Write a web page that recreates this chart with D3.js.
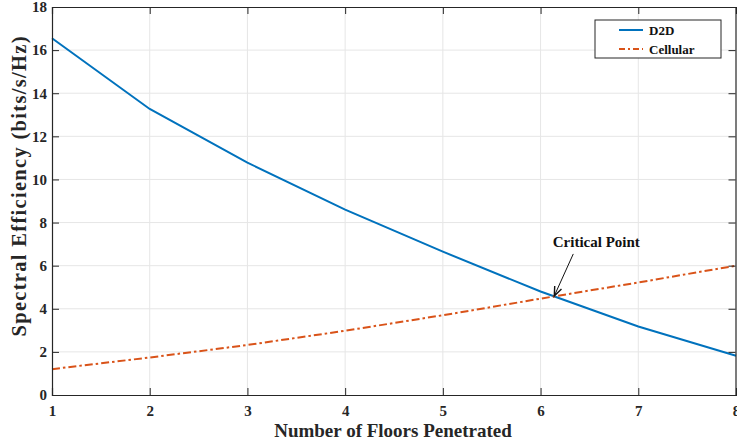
<!DOCTYPE html>
<html>
<head>
<meta charset="utf-8">
<script src="https://cdn.jsdelivr.net/npm/d3@7"></script>
<style>
  html, body { margin: 0; padding: 0; background: #fff; }
  svg { display: block; font-family: "Liberation Serif", "Times New Roman", serif; font-weight: bold; }
</style>
</head>
<body>
<svg id="chart" width="737" height="446"></svg>
<script>
// Number of floors penetrated
const floors = [1, 2, 3, 4, 5, 6, 7, 8];
// Spectral efficiency (bits/s/Hz)
const d2d = [16.55, 13.27, 10.78, 8.6, 6.65, 4.8, 3.18, 1.82];
const cellular = [1.2, 1.74, 2.32, 2.98, 3.7, 4.47, 5.22, 6.0];
const xTicks = [1, 2, 3, 4, 5, 6, 7, 8];
const yTicks = [0, 2, 4, 6, 8, 10, 12, 14, 16, 18];
const seriesNames = ["D2D", "Cellular"];
const critical = { x: 6.13, y: 4.55, label: "Critical Point" };

const svg = d3.select("#chart");
const m = { left: 52, right: 1, top: 7, bottom: 51 };
const W = 737, H = 446;
const x = d3.scaleLinear().domain([1, 8]).range([m.left, W - m.right]);
const y = d3.scaleLinear().domain([0, 18]).range([H - m.bottom, m.top]);

const axisColor = "#262626";

// grid
const grid = svg.append("g");
grid.selectAll(".gx").data(xTicks.slice(1, -1)).join("line")
  .attr("x1", d => x(d)).attr("x2", d => x(d))
  .attr("y1", y(0)).attr("y2", y(18))
  .attr("stroke", "#e6e6e6").attr("stroke-width", 1);
grid.selectAll(".gy").data(yTicks.slice(1, -1)).join("line")
  .attr("y1", d => y(d)).attr("y2", d => y(d))
  .attr("x1", x(1)).attr("x2", x(8))
  .attr("stroke", "#e6e6e6").attr("stroke-width", 1);

// series
const line = d3.line().x((d, i) => x(floors[i])).y(d => y(d));
svg.append("path").datum(d2d).attr("d", line)
  .attr("fill", "none").attr("stroke", "#0072BD").attr("stroke-width", 2);
svg.append("path").datum(cellular).attr("d", line)
  .attr("fill", "none").attr("stroke", "#D95319").attr("stroke-width", 2)
  .attr("stroke-dasharray", "8,3,2.5,3");

// axes (inward ticks, mirrored on top/right)
const tickLen = 7;
const xAxis = d3.axisBottom(x).tickValues(xTicks).tickSize(-tickLen).tickPadding(10).tickFormat(d3.format("d"));
const yAxis = d3.axisLeft(y).tickValues(yTicks).tickSize(-tickLen).tickPadding(5).tickFormat(d3.format("d"));
const gx = svg.append("g").attr("transform", `translate(0,${y(0)})`).call(xAxis);
const gy = svg.append("g").attr("transform", `translate(${x(1)},0)`).call(yAxis);
const gx2 = svg.append("g").attr("transform", `translate(0,${y(18)})`)
  .call(d3.axisTop(x).tickValues(xTicks).tickSize(-tickLen).tickFormat(""));
const gy2 = svg.append("g").attr("transform", `translate(${x(8) - 0.5},0)`)
  .call(d3.axisRight(y).tickValues(yTicks).tickSize(-tickLen).tickFormat(""));
[gx, gy, gx2, gy2].forEach(g => {
  g.select(".domain").attr("stroke", axisColor).attr("stroke-width", 1.2);
  g.selectAll(".tick line").attr("stroke", axisColor).attr("stroke-width", 1);
  g.selectAll(".tick text").attr("fill", axisColor)
    .style("font-family", "Liberation Serif").style("font-weight", "bold").style("font-size", "15px");
});

// axis titles
svg.append("text").attr("x", (x(1) + x(8)) / 2 - 1).attr("y", 437)
  .attr("text-anchor", "middle").attr("fill", axisColor)
  .style("font-size", "19px").text("Number of Floors Penetrated");
svg.append("text").attr("transform", "translate(25.5,186.5) rotate(-90)")
  .attr("text-anchor", "middle").attr("fill", axisColor)
  .attr("textLength", 300).attr("lengthAdjust", "spacing")
  .style("font-size", "20.5px").text("Spectral Efficiency (bits/s/Hz)");

// annotation
const px = x(critical.x), py = y(critical.y);
svg.append("text").attr("x", px + 43).attr("y", py - 50)
  .attr("text-anchor", "middle").attr("fill", "#111")
  .style("font-size", "15px").text(critical.label);
const sx = px + 20, sy = py - 43;
const tip = [px + 1, py - 1];
svg.append("line").attr("x1", sx).attr("y1", sy).attr("x2", tip[0]).attr("y2", tip[1])
  .attr("stroke", "#111").attr("stroke-width", 1);
const ang = Math.atan2(tip[1] - sy, tip[0] - sx);
const ah = 10, aw = 0.38;
svg.append("path")
  .attr("d", d3.line()([
    [tip[0] - ah * Math.cos(ang - aw), tip[1] - ah * Math.sin(ang - aw)],
    tip,
    [tip[0] - ah * Math.cos(ang + aw), tip[1] - ah * Math.sin(ang + aw)]
  ]))
  .attr("fill", "none").attr("stroke", "#111").attr("stroke-width", 1.4);

// legend
const lg = svg.append("g").attr("transform", "translate(595,20)");
lg.append("rect").attr("width", 126).attr("height", 38)
  .attr("fill", "#fff").attr("stroke", axisColor).attr("stroke-width", 1);
const lColors = ["#0072BD", "#D95319"];
const lDash = [null, "6,3,2,3"];
seriesNames.forEach((n, i) => {
  const yy = 10 + i * 19;
  lg.append("line").attr("x1", 24).attr("x2", 48).attr("y1", yy).attr("y2", yy)
    .attr("stroke", lColors[i]).attr("stroke-width", 2)
    .attr("stroke-dasharray", lDash[i]);
  lg.append("text").attr("x", 54).attr("y", yy + 4.5).attr("fill", "#111")
    .style("font-size", "13px").text(n);
});
</script>
</body>
</html>
